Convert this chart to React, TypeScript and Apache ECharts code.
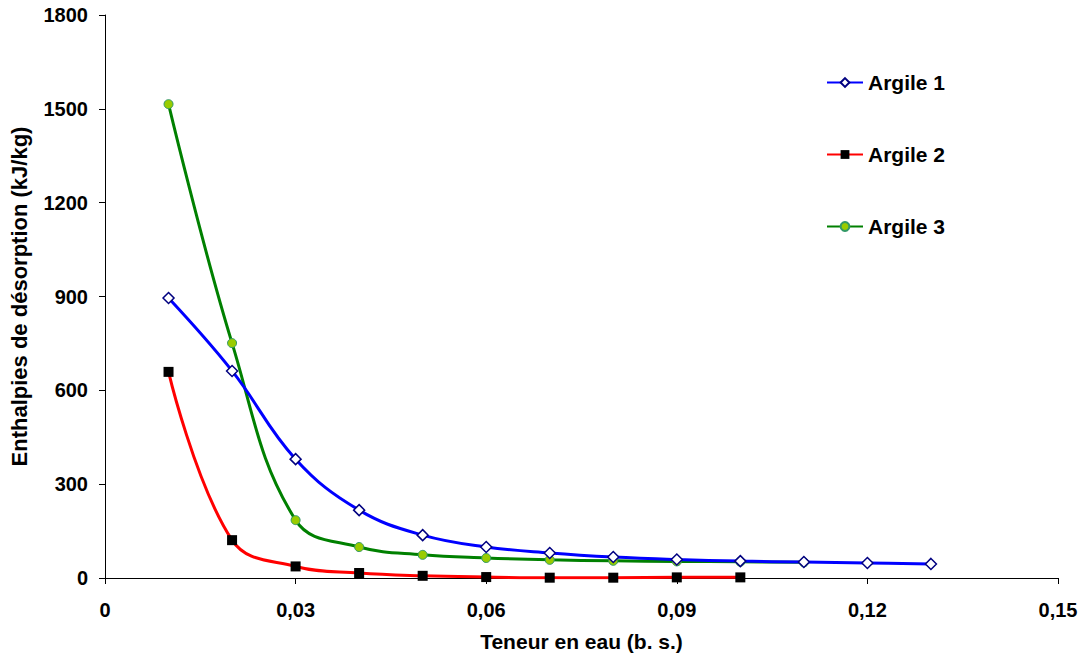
import React, { useEffect, useRef } from "react";
import * as echarts from "echarts";

const xArgile1 = [0.01, 0.02, 0.03, 0.04, 0.05, 0.06, 0.07, 0.08, 0.09, 0.1, 0.11, 0.12, 0.13];
const yArgile1 = [895, 662, 380, 217, 137, 99, 80, 67, 59, 54, 51, 48, 45];

const xArgile2 = [0.01, 0.02, 0.03, 0.04, 0.05, 0.06, 0.07, 0.08, 0.09, 0.1];
const yArgile2 = [659, 121, 37, 16, 7, 3, 1, 1, 2, 2];

const xArgile3 = [0.01, 0.02, 0.03, 0.04, 0.05, 0.06, 0.07, 0.08, 0.09, 0.1, 0.11];
const yArgile3 = [1515, 751, 185, 99, 74, 64, 58, 55, 53, 52, 50];

const seriesNames = ["Argile 1", "Argile 2", "Argile 3"];

const pairs = (xs: number[], ys: number[]) => xs.map((x, i) => [x, ys[i]]);

const fmtX = (v: number) => (v === 0 ? "0" : v.toFixed(2).replace(".", ","));
const fmtY = (v: number) => String(v);

export default function App() {
  const ref = useRef<HTMLDivElement>(null);
  useEffect(() => {
    if (!ref.current) return;
    const chart = echarts.init(ref.current, undefined, { renderer: "svg" });
    const font = "'Liberation Sans', Arial, sans-serif";
    chart.setOption({
      animation: false,
      backgroundColor: "#ffffff",
      textStyle: { fontFamily: font },
      grid: { left: 103, right: 27, top: 15, bottom: 86, containLabel: false },
      legend: {
        orient: "vertical",
        left: 821,
        top: 67,
        itemGap: 51,
        itemWidth: 36,
        itemHeight: 11,
        textStyle: { fontFamily: font, fontWeight: "bold", fontSize: 21, color: "#000" },
        data: seriesNames,
      },
      xAxis: {
        type: "value",
        min: 0,
        max: 0.15,
        interval: 0.03,
        name: "Teneur en eau (b. s.)",
        nameLocation: "middle",
        nameGap: 53,
        nameTextStyle: { fontFamily: font, fontWeight: "bold", fontSize: 21, color: "#000" },
        axisLine: { show: true, lineStyle: { color: "#000", width: 1 } },
        axisTick: { show: true, inside: false, length: 6, lineStyle: { color: "#000" } },
        axisLabel: {
          formatter: fmtX,
          fontFamily: font,
          fontWeight: "bold",
          fontSize: 20,
          color: "#000",
          margin: 22,
        },
        splitLine: { show: false },
      },
      yAxis: {
        type: "value",
        min: 0,
        max: 1800,
        interval: 300,
        name: "Enthalpies de désorption (kJ/kg)",
        nameLocation: "middle",
        nameGap: 75,
        nameTextStyle: { fontFamily: font, fontWeight: "bold", fontSize: 22, color: "#000" },
        axisLine: { show: true, lineStyle: { color: "#000", width: 1 } },
        axisTick: { show: true, inside: false, length: 6, lineStyle: { color: "#000" } },
        axisLabel: {
          formatter: fmtY,
          fontFamily: font,
          fontWeight: "bold",
          fontSize: 20,
          color: "#000",
          margin: 17,
        },
        splitLine: { show: false },
      },
      series: [
        {
          name: seriesNames[0],
          type: "line",
          smooth: 0.4,
          data: pairs(xArgile1, yArgile1),
          lineStyle: { color: "#0000ff", width: 3 },
          itemStyle: { color: "#ffffff", borderColor: "#000080", borderWidth: 1.5 },
          symbol: "diamond",
          symbolSize: 11,
          z: 3,
        },
        {
          name: seriesNames[1],
          type: "line",
          smooth: 0.4,
          data: pairs(xArgile2, yArgile2),
          lineStyle: { color: "#ff0000", width: 3 },
          itemStyle: { color: "#000000", borderColor: "#000000", borderWidth: 0 },
          symbol: "rect",
          symbolSize: 10,
          z: 2,
        },
        {
          name: seriesNames[2],
          type: "line",
          smooth: 0.4,
          data: pairs(xArgile3, yArgile3),
          lineStyle: { color: "#008000", width: 3 },
          itemStyle: { color: "#99cc00", borderColor: "#339966", borderWidth: 1 },
          symbol: "circle",
          symbolSize: 9,
          z: 2,
        },
      ],
    });
    return () => chart.dispose();
  }, []);
  return (
    <div
      ref={ref}
      style={{ position: "fixed", left: 0, top: 0, width: 1085, height: 664, background: "#fff" }}
    />
  );
}
